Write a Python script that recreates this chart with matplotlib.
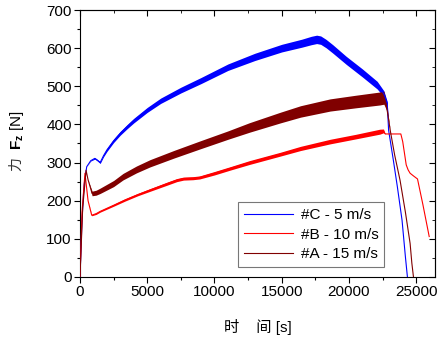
import numpy as np
import matplotlib
matplotlib.use("Agg")
import matplotlib.pyplot as plt
from matplotlib.ticker import MultipleLocator

plt.rcParams['font.family'] = ['Liberation Sans', 'Noto Sans CJK SC', 'DejaVu Sans']
plt.rcParams['mathtext.fontset'] = 'custom'
plt.rcParams['mathtext.rm'] = 'Liberation Sans'
plt.rcParams['mathtext.bf'] = 'Liberation Sans:bold'

# ---- data ----
# #C - 5 m/s (blue)
t_c = [0, 150, 300, 500, 800, 1100, 1300, 1500, 1750, 2000, 2500, 3000, 3500, 4000,
       5000, 6000, 7500, 9000, 11000, 13000, 15000, 16500, 17200, 17600, 17900,
       18300, 18800, 19800, 21000, 22100, 22600, 22850, 22950, 23300, 23600, 23950,
       24200, 24350]
f_c = [0, 150, 240, 289, 305, 311, 306, 300, 318, 333, 357, 377, 394, 410,
       438, 462, 490, 515, 550, 577, 600, 613, 620, 623, 621,
       612, 598, 568, 535, 503, 480, 455, 385, 307, 237, 149,
       53, 0]
w_c = [0, 0, 0, 0, 2, 4, 4, 5, 6, 8, 9, 10, 11, 12,
       13, 14, 15, 16, 17, 19, 20, 21, 22, 22, 22,
       22, 22, 21, 21, 20, 16, 10, 0, 0, 0, 0,
       0, 0]

# #B - 10 m/s (red)
t_b = [0, 150, 370, 600, 870, 1200, 1500, 2500, 3350, 4300, 5200, 6500, 7200, 7700,
       8400, 8900, 10000, 11200, 12600, 14900, 16400, 18600, 20500, 22300, 22570,
       22700, 23200, 23860, 24000, 24150, 24260, 24400, 24550, 24800, 25100, 25500,
       25970]
f_b = [0, 170, 272, 200, 162, 166, 172, 188, 202, 216, 228, 245, 254, 258,
       259, 261, 272, 285, 300, 322, 337, 355, 368, 381, 383,
       375, 375, 375, 355, 320, 294, 281, 272, 265, 257, 190,
       106]
w_b = [0, 0, 0, 0, 3, 4, 4, 5, 6, 6, 7, 8, 8, 8,
       8, 8, 9, 9, 10, 10, 11, 12, 12, 13, 10,
       0, 0, 0, 0, 0, 0, 0, 0, 0, 0, 0,
       0]

# #A - 15 m/s (dark red)
t_a = [0, 200, 450, 600, 900, 1200, 1500, 2500, 3200, 4200, 5200, 7000, 8900, 11000,
       12600, 14900, 16400, 18600, 20500, 22300, 22600, 22800, 23070, 23400, 23800,
       24200, 24550, 24680, 24800]
f_a = [0, 180, 280, 255, 219, 221, 226, 245, 263, 282, 298, 322, 346, 372,
       392, 418, 434, 451, 460, 468, 470, 447, 385, 320, 254,
       170, 88, 36, 0]
w_a = [0, 0, 0, 0, 12, 13, 14, 16, 17, 18, 19, 20, 21, 22,
       25, 28, 30, 32, 33, 34, 34, 20, 0, 0, 0,
       0, 0, 0, 0]

labels = ['#C - 5 m/s', '#B - 10 m/s', '#A - 15 m/s']
colors = ['#0000ff', '#ff0000', '#800000']

fig = plt.figure(figsize=(4.4, 3.38), dpi=100)
ax = fig.add_axes([0.1818, 0.1805, 0.8068, 0.7899])

series = [(t_c, f_c, w_c), (t_b, f_b, w_b), (t_a, f_a, w_a)]
for (t, f, w), col, lab in zip(series, colors, labels):
    t = np.asarray(t, float); f = np.asarray(f, float); w = np.asarray(w, float)
    ax.plot(t, f, color=col, lw=0.8, label=lab, zorder=3)
    ax.fill_between(t, f - w / 2, f + w / 2, color=col, lw=0, zorder=2)

ax.set_xlim(0, 26400)
ax.set_ylim(0, 700)
ax.xaxis.set_major_locator(MultipleLocator(5000))
ax.xaxis.set_minor_locator(MultipleLocator(2500))
ax.yaxis.set_major_locator(MultipleLocator(100))
ax.yaxis.set_minor_locator(MultipleLocator(50))
ax.tick_params(axis='both', which='major', direction='out', length=4, width=0.8,
               labelsize=11, pad=2)
ax.tick_params(axis='both', which='minor', direction='out', length=2, width=0.8)

secx = ax.secondary_xaxis('top')
secx.xaxis.set_major_locator(MultipleLocator(5000))
secx.xaxis.set_minor_locator(MultipleLocator(2500))
secx.tick_params(which='major', direction='in', length=4, labeltop=False)
secx.tick_params(which='minor', direction='in', length=2)
secy = ax.secondary_yaxis('right')
secy.yaxis.set_major_locator(MultipleLocator(100))
secy.yaxis.set_minor_locator(MultipleLocator(50))
secy.tick_params(which='major', direction='in', length=4, labelright=False)
secy.tick_params(which='minor', direction='in', length=2)
for s in ax.spines.values():
    s.set_linewidth(0.8)
for s in (secx.spines['top'], secy.spines['right']):
    s.set_color('#555555')

ax.set_xlabel('时    间 [s]', fontsize=11, labelpad=14)
# y label: CJK glyph and mathtext part as separate texts
fig.text(16 / 440, 1 - 164 / 338, '力', rotation=90, ha='center', va='center',
         fontsize=10, family=['Noto Sans CJK SC'], color='#333333')
fig.text(17 / 440, 1 - 130 / 338, '$\\mathbf{F}_{\\mathbf{z}}$ [N]', rotation=90,
         ha='center', va='center', fontsize=11)

leg = ax.legend(loc='lower left', bbox_to_anchor=(0.445, 0.037), borderaxespad=0,
                fontsize=11, frameon=True, fancybox=False, handlelength=3.2,
                handletextpad=0.5, labelspacing=0.35, borderpad=0.4)
leg.get_frame().set_edgecolor('#555555')
leg.get_frame().set_linewidth(0.8)

fig.savefig('out.png', dpi=100)
